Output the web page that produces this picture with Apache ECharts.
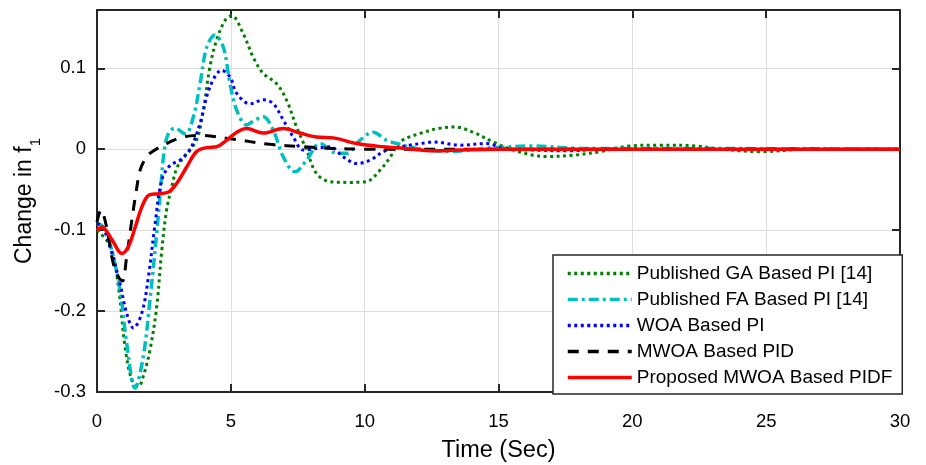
<!DOCTYPE html>
<html>
<head>
<meta charset="utf-8">
<script src="https://cdn.jsdelivr.net/npm/echarts@6/dist/echarts.min.js"></script>
<style>
html,body{margin:0;padding:0;background:#fff;}
#chart{width:926px;height:465px;}
</style>
</head>
<body>
<div id="chart"></div>
<script>
// ---- data ----
var seriesNames = ['Published GA Based PI [14]', 'Published FA Based PI [14]', 'WOA Based PI', 'MWOA Based PID', 'Proposed MWOA Based PIDF'];

var gaT = [0, 0.5, 0.8, 1.05, 1.3, 1.55, 1.75, 1.98, 2.23, 2.42, 2.6, 2.79, 3.0, 3.35, 3.72, 3.97, 4.22, 4.47, 4.8, 5.03, 5.46, 5.83, 6.2, 6.71, 7.09, 7.46, 7.83, 8.2, 8.7, 9.45, 10.07, 10.57, 10.95, 11.32, 12.07, 12.81, 13.37, 14.05, 14.8, 15.55, 16.3, 16.8, 17.8, 18.8, 19.9, 21.0, 22.4, 23.3, 24.8, 26.5, 30];
var gaV = [-0.1, -0.12, -0.17, -0.245, -0.285, -0.293, -0.278, -0.248, -0.195, -0.125, -0.075, -0.047, -0.022, -0.005, 0.011, 0.048, 0.102, 0.135, 0.16, 0.165, 0.143, 0.114, 0.094, 0.081, 0.06, 0.027, -0.001, -0.03, -0.040, -0.041, -0.040, -0.026, -0.01, 0.009, 0.0195, 0.026, 0.0275, 0.021, 0.009, -0.001, -0.0074, -0.009, -0.0074, -0.003, 0.004, 0.005, 0.004, 0.0, -0.003, 0.0, 0.0];

var faT = [0, 0.2, 0.48, 0.86, 1.11, 1.42, 1.73, 1.98, 2.23, 2.4, 2.5, 2.65, 2.9, 3.3, 3.6, 3.85, 4.1, 4.41, 4.72, 4.97, 5.22, 5.59, 5.9, 6.21, 6.59, 6.96, 7.4, 7.83, 8.33, 8.95, 9.33, 9.82, 10.32, 10.82, 11.2, 11.94, 13.19, 14.43, 16.3, 18, 20, 30];
var faV = [-0.092, -0.095, -0.116, -0.174, -0.24, -0.295, -0.256, -0.186, -0.104, -0.04, -0.005, 0.018, 0.026, 0.019, 0.04, 0.081, 0.126, 0.141, 0.126, 0.081, 0.048, 0.03, 0.036, 0.04, 0.023, -0.0095, -0.028, -0.0136, 0.007, -0.005, -0.005, 0.011, 0.021, 0.011, 0.007, 0.001, -0.003, 0.001, 0.004, 0.001, 0.001, 0];

var woaT = [0, 0.2, 0.48, 0.86, 1.11, 1.36, 1.67, 1.92, 2.17, 2.42, 2.73, 3.1, 3.47, 3.85, 4.22, 4.66, 4.97, 5.22, 5.72, 6.21, 6.59, 6.96, 7.33, 7.71, 8.2, 8.7, 9.2, 9.7, 10.2, 10.7, 11.2, 11.69, 12.3, 12.56, 13.56, 14.56, 15.3, 16.3, 17.55, 19, 30];
var woaV = [-0.092, -0.095, -0.12, -0.166, -0.203, -0.221, -0.203, -0.158, -0.092, -0.038, -0.02, -0.0136, -0.001, 0.032, 0.077, 0.0975, 0.089, 0.069, 0.056, 0.061, 0.056, 0.036, 0.015, -0.001, 0.001, 0.003, -0.0095, -0.0177, -0.0136, -0.003, 0.002, 0.005, 0.008, 0.009, 0.005, 0.007, 0.0, -0.001, -0.002, 0.0, 0];

var pidT = [0, 0.15, 0.35, 0.6, 0.8, 0.95, 1.1, 1.3, 1.45, 1.61, 1.8, 1.98, 2.6, 3.22, 3.85, 4.97, 6.46, 7.7, 8.8, 10, 12, 30];
var pidV = [-0.09, -0.075, -0.095, -0.14, -0.158, -0.163, -0.135, -0.088, -0.055, -0.026, -0.012, -0.005, 0.007, 0.015, 0.017, 0.013, 0.006, 0.003, 0.001, 0.0, 0.0, 0];

var pidfT = [0, 0.18, 0.56, 0.93, 1.18, 1.43, 1.68, 1.93, 2.3, 2.67, 2.98, 3.35, 3.72, 4.1, 4.47, 4.84, 5.22, 5.59, 6.21, 6.96, 7.58, 8.2, 8.83, 9.7, 10.69, 11.5, 12.56, 13.5, 15, 30];
var pidfV = [-0.1, -0.096, -0.112, -0.129, -0.12, -0.096, -0.071, -0.057, -0.055, -0.053, -0.042, -0.022, -0.003, 0.002, 0.003, 0.011, 0.021, 0.0255, 0.02, 0.0255, 0.02, 0.015, 0.014, 0.007, 0.003, 0.001, -0.002, -0.001, 0, 0];

var xTicks = [0, 5, 10, 15, 20, 25, 30];
var yTicks = [-0.3, -0.2, -0.1, 0, 0.1];

// ---- chart ----
function zip(t, v) { return t.map(function (x, i) { return [x, v[i]]; }); }
var FONT = '"Liberation Sans", Arial, Helvetica, sans-serif';
var AX = '#262626';

var chart = echarts.init(document.getElementById('chart'), null, {renderer: 'canvas'});

function mkSeries(name, t, v, color, width, dash) {
  return {
    name: name, type: 'line', data: zip(t, v), smooth: 0.35,
    symbol: 'none', showSymbol: false, animation: false,
    lineStyle: {color: color, width: width, type: dash},
    itemStyle: {color: color}
  };
}

var option = {
  animation: false,
  backgroundColor: '#fff',
  textStyle: {fontFamily: FONT},
  grid: {left: 97, right: 26, top: 10, bottom: 73, containLabel: false, outerBoundsMode: 'none'},
  xAxis: [{
    type: 'value', min: xTicks[0], max: xTicks[xTicks.length - 1], interval: 5,
    name: 'Time (Sec)', nameLocation: 'middle', nameGap: 47,
    nameTextStyle: {fontSize: 23.5, color: '#000', fontFamily: FONT},
    axisLine: {show: true, onZero: false, lineStyle: {color: AX, width: 2}},
    axisTick: {show: true, inside: true, length: 8, lineStyle: {color: AX, width: 2}},
    axisLabel: {fontSize: 18.5, color: '#000', margin: 20, fontFamily: FONT},
    splitLine: {show: true, lineStyle: {color: '#dedede', width: 1}}
  }, {
    type: 'value', position: 'top', min: 0, max: 30, interval: 5,
    axisLine: {show: true, onZero: false, lineStyle: {color: AX, width: 2}},
    axisTick: {show: true, inside: true, length: 8, lineStyle: {color: AX, width: 2}},
    axisLabel: {show: false}, splitLine: {show: false}
  }],
  yAxis: [{
    type: 'value', min: yTicks[0], max: 0.172, interval: 0.1,
    name: '{a|Change in f}{b|1}', nameLocation: 'middle', nameGap: 49, nameRotate: 90,
    nameTextStyle: {
      color: '#000', fontFamily: FONT,
      rich: {
        a: {fontSize: 23, lineHeight: 30, verticalAlign: 'top', color: '#000', fontFamily: FONT},
        b: {fontSize: 15, lineHeight: 30, verticalAlign: 'bottom', color: '#000', fontFamily: FONT}
      }
    },
    axisLine: {show: true, onZero: false, lineStyle: {color: AX, width: 2}},
    axisTick: {show: true, inside: true, length: 8, lineStyle: {color: AX, width: 2}},
    axisLabel: {
      fontSize: 18.5, color: '#000', margin: 11, fontFamily: FONT, showMaxLabel: false,
      formatter: function (v) {
        var r = Math.round(v * 10) / 10;
        if (yTicks.indexOf(r) < 0) return '';
        return r === 0 ? '0' : r.toFixed(1);
      }
    },
    splitLine: {show: true, lineStyle: {color: '#dedede', width: 1}}
  }, {
    type: 'value', position: 'right', min: -0.3, max: 0.172, interval: 0.1,
    axisLine: {show: true, onZero: false, lineStyle: {color: AX, width: 2}},
    axisTick: {show: true, inside: true, length: 8, lineStyle: {color: AX, width: 2}},
    axisLabel: {show: false}, splitLine: {show: false}
  }],
  legend: {
    orient: 'vertical', left: 553, top: 255,
    padding: [9, 10, 7, 13],
    itemWidth: 64, itemHeight: 18, itemGap: 7,
    backgroundColor: '#fff', borderColor: AX, borderWidth: 1.5,
    itemStyle: {opacity: 0},
    lineStyle: {width: 3.5},
    textStyle: {fontSize: 19, lineHeight: 18, color: '#000', fontFamily: FONT},
    data: seriesNames
  },
  series: [
    mkSeries(seriesNames[0], gaT, gaV, '#008000', 3, [3, 3.5]),
    mkSeries(seriesNames[1], faT, faV, '#00BFBF', 3.5, [10, 4, 3, 4]),
    mkSeries(seriesNames[2], woaT, woaV, '#0000FF', 3, [3, 3.5]),
    mkSeries(seriesNames[3], pidT, pidV, '#000000', 3, [11, 9]),
    mkSeries(seriesNames[4], pidfT, pidfV, '#FF0000', 3.5, 'solid')
  ]
};
chart.setOption(option);
</script>
</body>
</html>
